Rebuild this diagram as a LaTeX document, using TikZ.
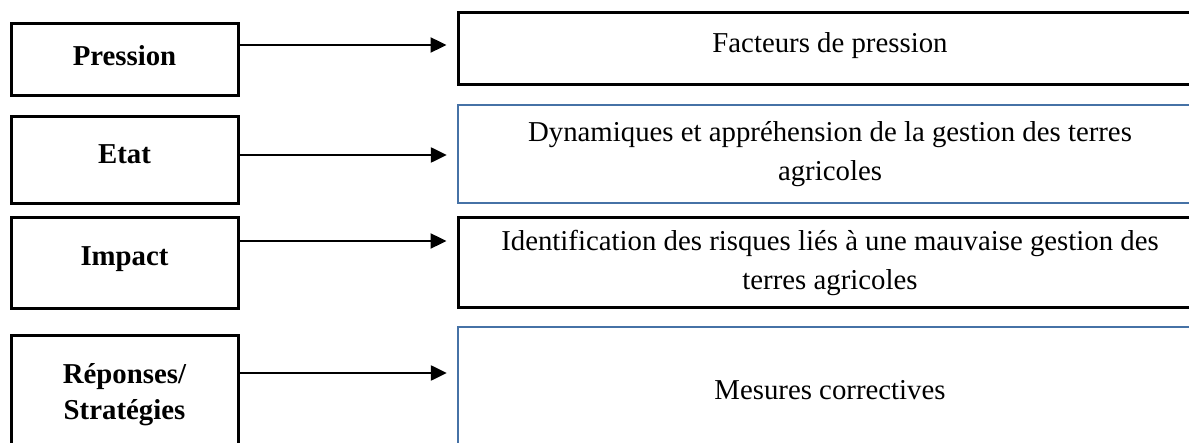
\documentclass[tikz,border=0pt]{standalone}
\usepackage{fontspec}
\setmainfont{Liberation Serif}
\usetikzlibrary{arrows.meta}
\definecolor{boxblue}{RGB}{70,114,166}
\begin{document}
\begin{tikzpicture}[x=0.5pt,y=-0.5pt,
    leftbox/.style={draw, line width=1.5pt, minimum width=113.5pt, inner sep=0pt, align=center, font=\fontsize{14.4}{18}\selectfont\bfseries},
    rightbox/.style={draw, line width=1.5pt, minimum width=372pt, inner sep=0pt, align=center, font=\fontsize{14.4}{19.5}\selectfont},
    arr/.style={line width=1.2pt, shorten >=5pt, -{Triangle[length=8pt,width=7.5pt]}}]
    \useasboundingbox (0,0) rectangle (1189,443);
    \node[leftbox, minimum height=36pt, text depth=4pt] (pres) at (124.5,60) {Pression};
    \node[leftbox, minimum height=43.5pt, text depth=6pt] (etat) at (124.5,160.5) {Etat};
    \node[leftbox, minimum height=45.5pt, text depth=7pt] (imp) at (124.5,263.5) {Impact};
    \node[leftbox, minimum height=59pt] (rep) at (124.5,395) {Réponses/\\Stratégies};
    \node[rightbox, minimum height=36pt, text depth=6pt] (fact) at (830,49) {Facteurs de pression};
    \node[rightbox, boxblue, text=black, line width=1.2pt, minimum height=49pt] (dyn) at (830,154) {Dynamiques et appréhension de la gestion des terres\\agricoles};
    \node[rightbox, minimum height=45pt] (ident) at (830,263) {Identification des risques liés à une mauvaise gestion des\\terres agricoles};
    \node[rightbox, boxblue, text=black, line width=1.2pt, minimum height=63pt] (mes) at (830,390) {Mesures correctives};
    \draw[arr] (pres.east |- 0,45) -- (fact.west |- 0,45);
    \draw[arr] (etat.east |- 0,155) -- (dyn.west |- 0,155);
    \draw[arr] (imp.east |- 0,241) -- (ident.west |- 0,241);
    \draw[arr] (rep.east |- 0,373) -- (mes.west |- 0,373);
\end{tikzpicture}
\end{document}
